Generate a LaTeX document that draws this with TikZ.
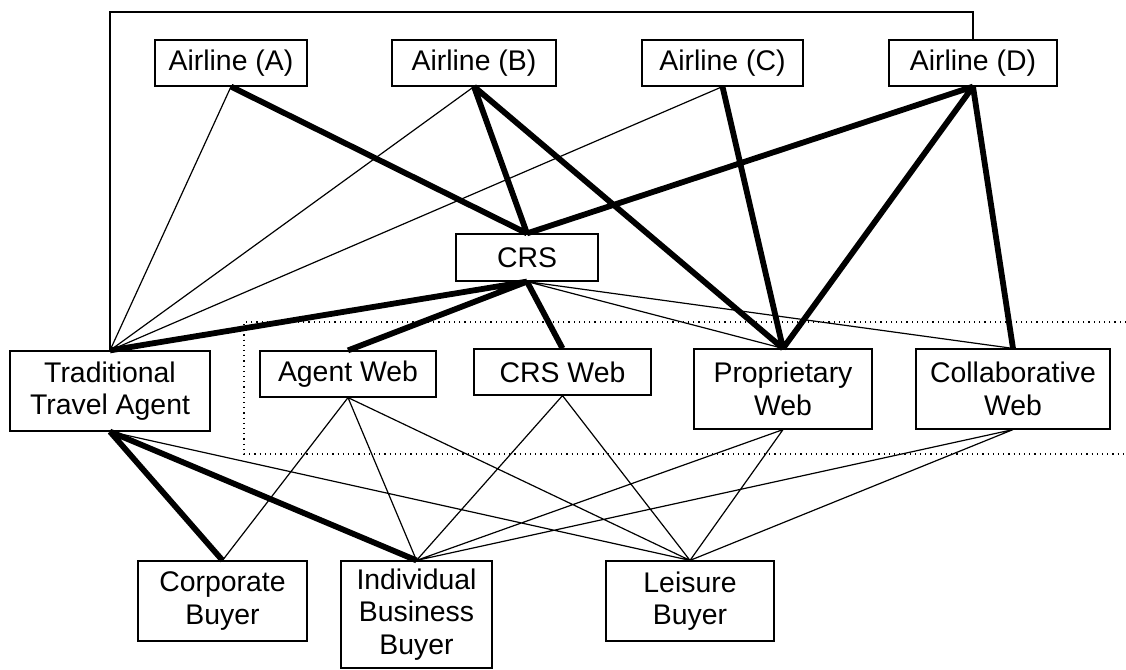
\documentclass[tikz,border=0pt]{standalone}
\usepackage{fontspec}
\setmainfont{Liberation Sans}
\usepackage{tikz}

\begin{document}
\begin{tikzpicture} [x=0.5pt, y=-0.5pt, line width=0.6pt]
\useasboundingbox (0,0) rectangle (1126,670);
\tikzstyle{every node}=[draw, shape=rectangle, align=center, inner sep=0pt, font=\fontsize{14.2}{16.2}\selectfont];
\tikzstyle{heavy}=[line width=2.9pt];
\node [minimum width=76pt, minimum height=23pt] (aa) at (231,63) {Airline (A)};
\node [minimum width=82pt, minimum height=23pt] (ab) at (474,63) {Airline (B)};
\node [minimum width=80.5pt, minimum height=23pt] (ac) at (722.5,63) {Airline (C)};
\node [minimum width=84pt, minimum height=23pt] (ad) at (973,63) {Airline (D)};
\node [minimum width=71pt, minimum height=23.5pt] (crs) at (527,257.5) {CRS};
\node [minimum width=100pt, minimum height=40pt] (tta) at (110,391) {Traditional\\Travel Agent};
\node [minimum width=88pt, minimum height=23pt] (aw) at (348,374) {Agent Web};
\node [minimum width=88.5pt, minimum height=23pt] (cw) at (562.5,372) {CRS Web};
\node [minimum width=89pt, minimum height=40pt] (pw) at (783,389) {Proprietary\\Web};
\node [minimum width=97pt, minimum height=40pt] (colw) at (1013,389) {Collaborative\\Web};
\node [minimum width=84.5pt, minimum height=40pt] (cb) at (222.5,601) {Corporate\\Buyer};
\node [minimum width=75.5pt, minimum height=53.5pt] (ibb) at (416.5,614.5) {Individual\\Business\\Buyer};
\node [minimum width=84pt, minimum height=40pt] (lb) at (690,601) {Leisure\\Buyer};
\coordinate (top) at (541,12);
\draw (tta.north) |- (top) -| (ad.north); % frame line
\draw [dotted] (1126,322) -- (244,322) -- (244,454) -- (1126,454);
\draw (aa.south) -- (tta.north) % thin links
(ab.south) -- (tta.north)
(ac.south) -- (tta.north)
(crs.south) -- (pw.north)
(crs.south) -- (colw.north)
(tta.south) -- (lb.north)
(aw.south) -- (cb.north)
(aw.south) -- (ibb.north)
(aw.south) -- (lb.north)
(cw.south) -- (ibb.north)
(cw.south) -- (lb.north)
(pw.south) -- (ibb.north)
(pw.south) -- (lb.north)
(colw.south) -- (ibb.north)
(colw.south) -- (lb.north);
\draw [heavy] (aa.south) -- (crs.north) % thick links
(ab.south) -- (crs.north)
(ab.south) -- (pw.north)
(ac.south) -- (pw.north)
(ad.south) -- (crs.north)
(ad.south) -- (pw.north)
(ad.south) -- (colw.north)
(crs.south) -- (tta.north)
(crs.south) -- (aw.north)
(crs.south) -- (cw.north)
(tta.south) -- (cb.north)
(tta.south) -- (ibb.north);
\end{tikzpicture}
\end{document}
